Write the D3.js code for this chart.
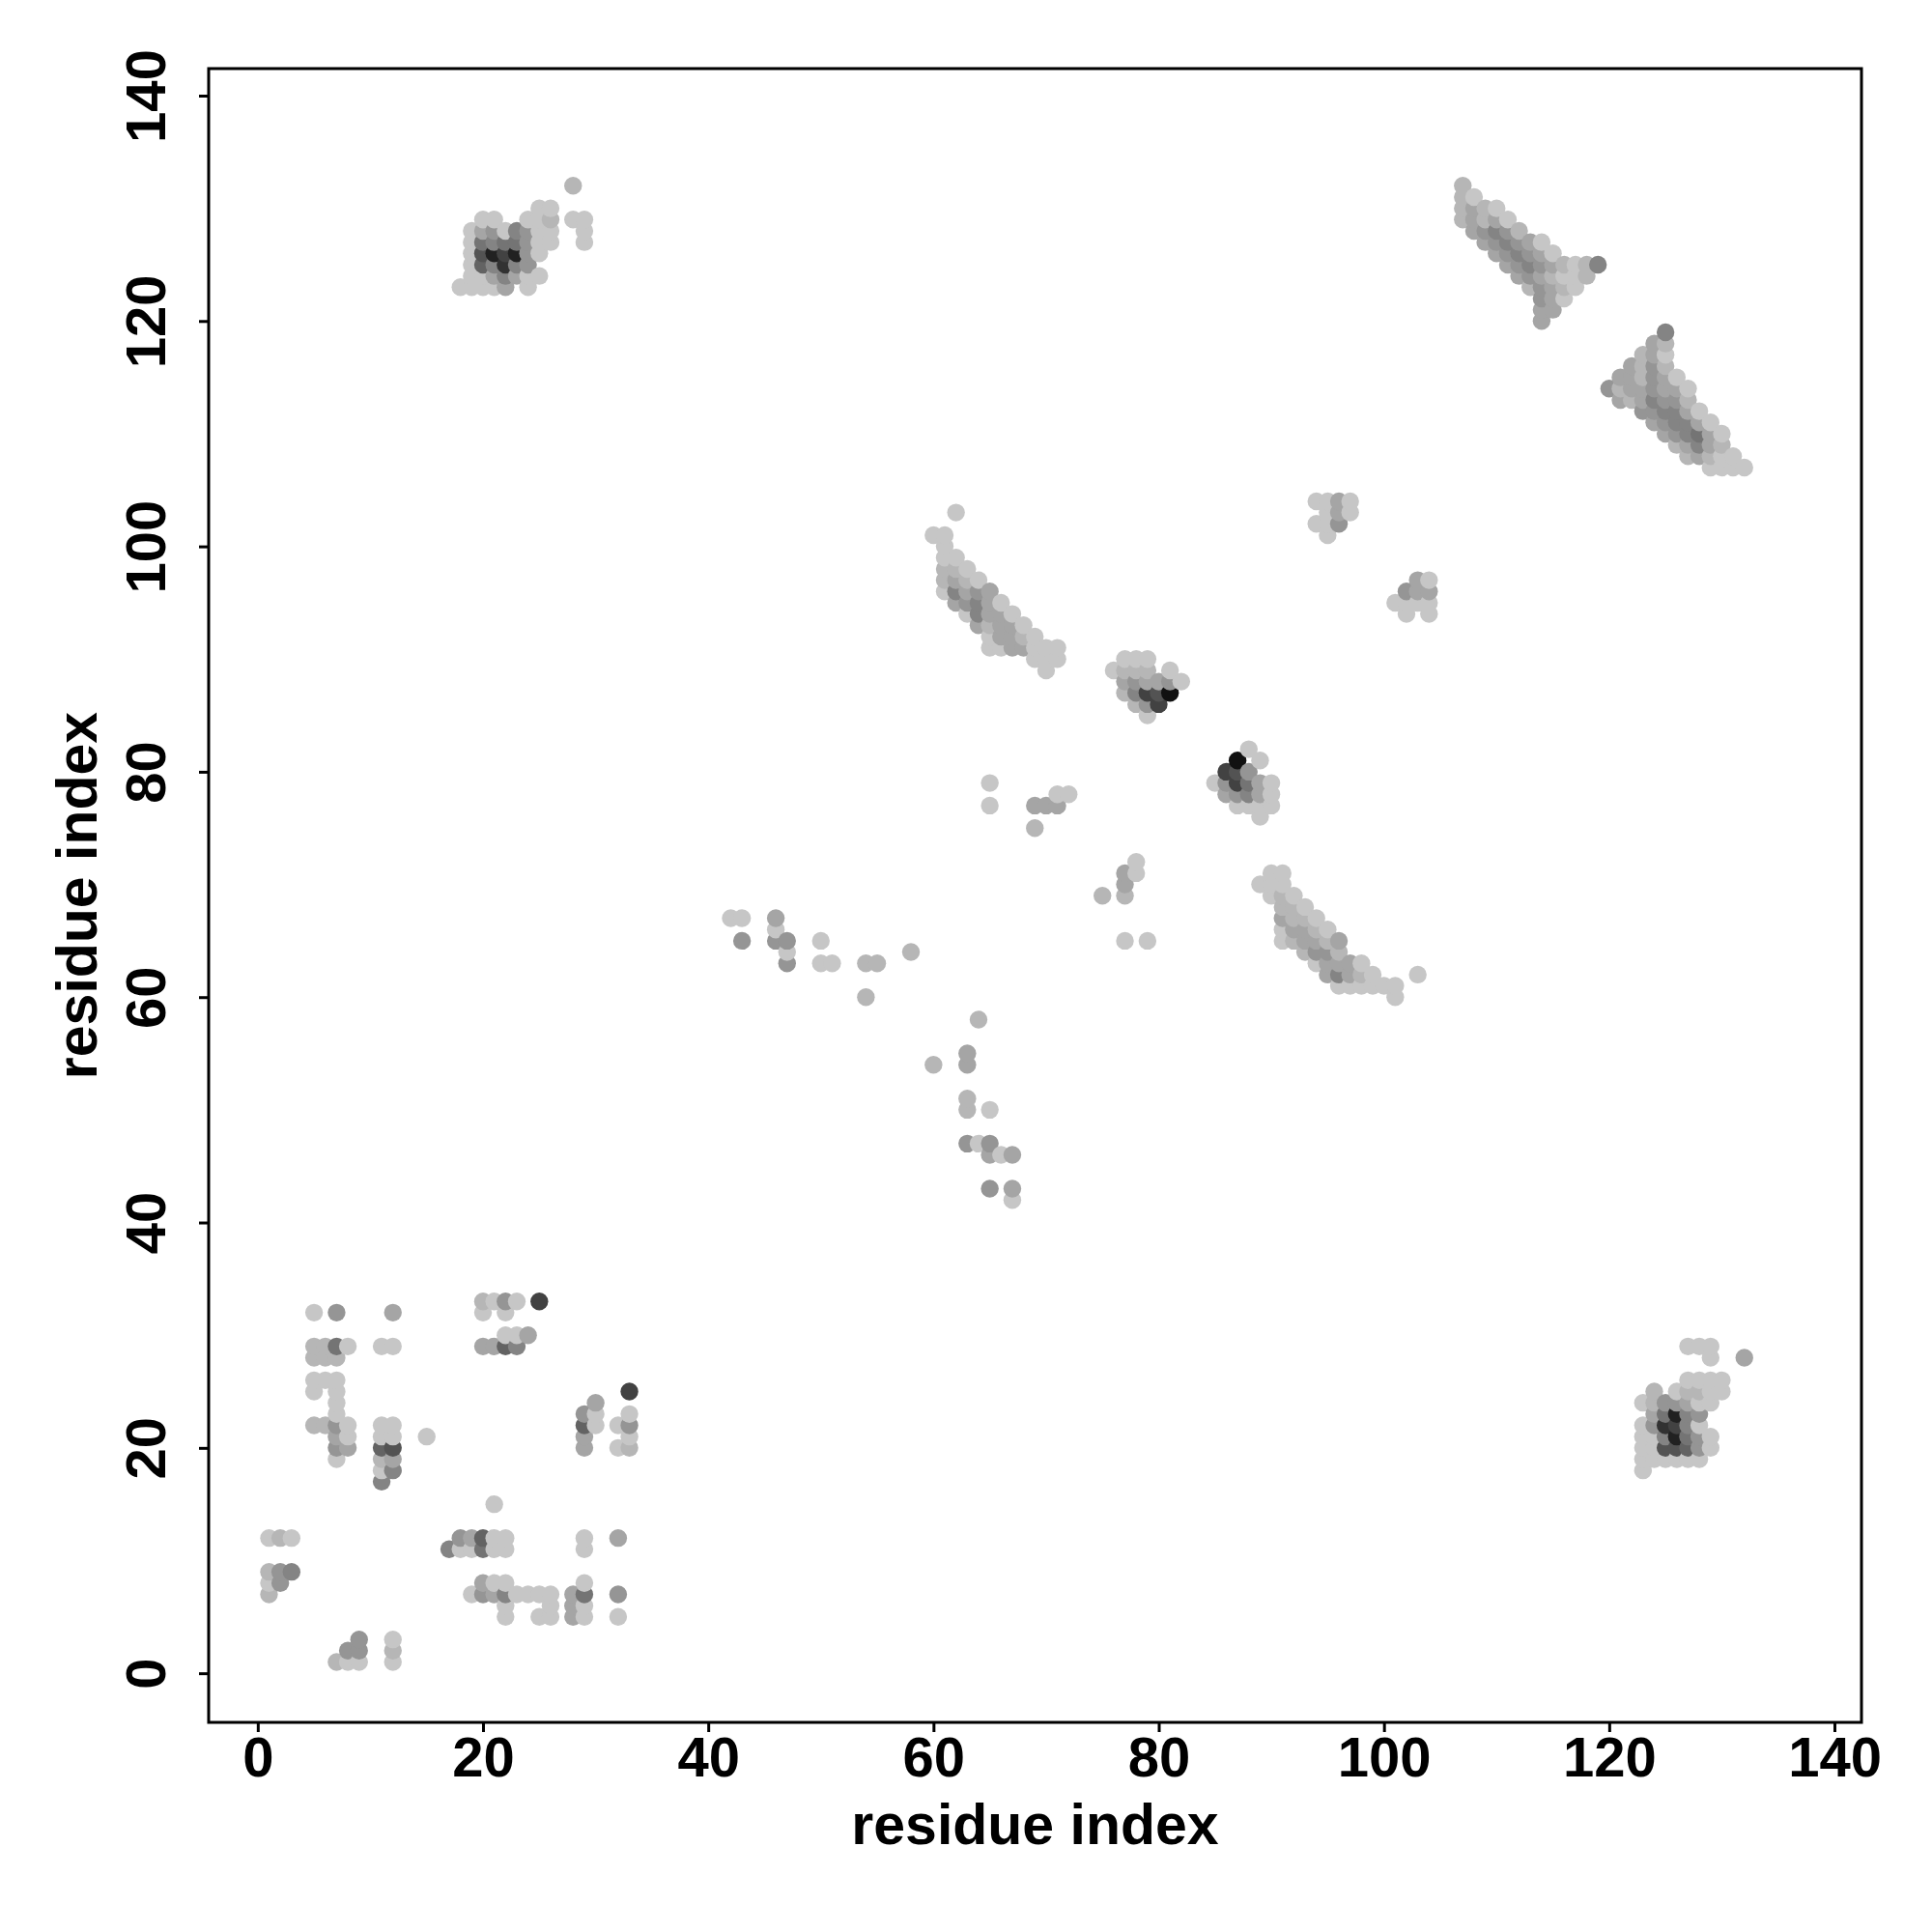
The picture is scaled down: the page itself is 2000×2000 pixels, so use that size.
<!DOCTYPE html>
<html>
<head>
<meta charset="utf-8">
<script src="https://cdn.jsdelivr.net/npm/d3@7/dist/d3.min.js"></script>
<style>
  html, body { margin: 0; padding: 0; background: #fff; }
  svg text { font-family: "Liberation Sans", Arial, Helvetica, sans-serif; font-weight: bold; }
</style>
</head>
<body>
<svg id="chart" width="2000" height="2000"></svg>
<script>
// ---- data: [residue i, residue j, contact strength level 0..11] ----
const xTicks = [0, 20, 40, 60, 80, 100, 120, 140];
const yTicks = [0, 20, 40, 60, 80, 100, 120, 140];
const xTitle = "residue index";
const yTitle = "residue index";

const contactsA = [
  [5,32,0],[7,32,3],[12,32,2],
  [5,29,1],[6,29,1],[7,29,5],[8,29,0],[11,29,0],[12,29,0],
  [5,28,1],[6,28,1],[7,28,1],
  [5,26,0],[6,26,0],[7,26,0],
  [5,25,0],[7,25,0],[7,24,0],[7,23,0],
  [5,22,1],[6,22,1],[7,22,3],[8,22,0],
  [7,21,2],[8,21,0],[7,20,3],[8,20,2],[7,19,0],
  [11,22,0],[12,22,0],[11,21,0],[12,21,0],[11,20,6],[12,20,7],
  [11,19,1],[12,19,2],[11,18,0],[12,18,4],[11,17,4],
  [15,21,0],
  [1,12,0],[2,12,1],[3,12,0],
  [1,9,1],[2,9,3],[3,9,4],[1,8,0],[2,8,3],[1,7,1],
  [9,3,3],[8,2,3],[9,2,3],[7,1,1],[8,1,0],[9,1,0],
  [12,3,0],[12,2,1],[12,1,0]
];

const contactsB = [
  [20,33,1],[21,33,0],[22,33,3],[23,33,0],[25,33,8],
  [20,32,0],[22,32,0],
  [22,30,0],[23,30,0],[24,30,2],
  [20,29,2],[21,29,2],[22,29,6],[23,29,4],
  [33,25,8],[30,24,2],[29,23,3],[30,23,0],[33,23,0],
  [29,22,6],[30,22,0],[32,22,0],[33,22,3],
  [29,21,2],[33,21,0],[29,20,2],[32,20,0],[33,20,1],
  [21,15,0],
  [18,12,3],[19,12,2],[20,12,6],[21,12,0],[22,12,0],
  [17,11,4],[18,11,0],[19,11,0],[20,11,5],[21,11,0],[22,11,0],
  [29,12,0],[29,11,0],[32,12,2],
  [20,8,2],[21,8,0],[22,8,0],[29,8,0],
  [19,7,0],[20,7,3],[21,7,2],[22,7,4],[23,7,0],[24,7,0],[25,7,0],[26,7,0],
  [28,7,2],[29,7,5],[32,7,3],
  [22,6,0],[26,6,0],[28,6,2],[29,6,0],
  [22,5,0],[25,5,0],[26,5,0],[28,5,2],[29,5,0],[32,5,0]
];

const contactsC = [
  [28,132,1],
  [25,130,0],[26,130,0],
  [20,129,0],[21,129,0],[24,129,0],[25,129,0],[26,129,1],[28,129,0],[29,129,0],
  [19,128,0],[20,128,2],[21,128,3],[22,128,0],[23,128,4],[24,128,3],[25,128,0],[26,128,0],[29,128,0],
  [19,127,0],[20,127,5],[21,127,4],[22,127,5],[23,127,5],[24,127,3],[25,127,0],[26,127,0],[29,127,0],
  [19,126,0],[20,126,7],[21,126,10],[22,126,8],[23,126,10],[24,126,3],[25,126,0],
  [19,125,0],[20,125,6],[21,125,4],[22,125,9],[23,125,4],[24,125,3],
  [19,124,0],[20,124,0],[21,124,2],[22,124,4],[23,124,2],[24,124,0],[25,124,0],
  [18,123,0],[19,123,0],[20,123,0],[21,123,0],[22,123,2],[24,123,0]
];

const contactsD = [
  [107,132,1],
  [107,131,1],[108,131,0],
  [107,130,1],[108,130,2],[109,130,1],[110,130,0],
  [107,129,1],[108,129,2],[109,129,1],[110,129,2],[111,129,0],
  [108,128,2],[109,128,3],[110,128,4],[111,128,3],[112,128,1],
  [109,127,2],[110,127,3],[111,127,4],[112,127,3],[113,127,2],[114,127,0],
  [110,126,2],[111,126,3],[112,126,4],[113,126,3],[114,126,2],[115,126,0],
  [111,125,2],[112,125,3],[113,125,4],[114,125,3],[115,125,2],[116,125,1],[117,125,0],[118,125,1],[119,125,4],
  [112,124,2],[113,124,3],[114,124,2],[115,124,1],[116,124,0],[117,124,0],[118,124,1],
  [113,123,1],[114,123,3],[115,123,2],[116,123,1],[117,123,0],
  [114,122,3],[115,122,2],[116,122,0],
  [114,121,2],[115,121,2],
  [114,120,2]
];

const contactsE = [
  [125,119,4],
  [124,118,2],[125,118,1],
  [123,117,1],[124,117,2],[125,117,0],
  [122,116,2],[123,116,1],[124,116,3],[125,116,1],
  [121,115,2],[122,115,2],[123,115,1],[124,115,3],[125,115,2],[126,115,0],
  [120,114,3],[121,114,1],[122,114,2],[123,114,2],[124,114,3],[125,114,2],[126,114,2],[127,114,0],
  [121,113,2],[122,113,1],[123,113,2],[124,113,4],[125,113,3],[126,113,3],[127,113,1],
  [123,112,3],[124,112,3],[125,112,4],[126,112,4],[127,112,2],[128,112,0],
  [124,111,2],[125,111,3],[126,111,4],[127,111,4],[128,111,2],[129,111,0],
  [125,110,2],[126,110,3],[127,110,4],[128,110,5],[129,110,2],[130,110,0],
  [126,109,1],[127,109,2],[128,109,4],[129,109,2],[130,109,1],
  [127,108,1],[128,108,2],[129,108,1],[130,108,0],[131,108,0],
  [129,107,0],[130,107,0],[131,107,0],[132,107,0]
];

const contactsF = [
  [62,103,0],
  [60,101,0],[61,101,0],[61,100,0],[61,99,0],[62,99,0],
  [61,98,1],[62,98,1],[63,98,0],
  [61,97,1],[62,97,2],[63,97,1],[64,97,0],
  [61,96,0],[62,96,4],[63,96,2],[64,96,3],[65,96,2],
  [62,95,2],[63,95,3],[64,95,4],[65,95,2],[66,95,0],
  [63,94,0],[64,94,4],[65,94,2],[66,94,2],[67,94,0],
  [64,93,2],[65,93,1],[66,93,2],[67,93,2],[68,93,0],
  [65,92,0],[66,92,2],[67,92,2],[68,92,1],[69,92,0],
  [65,91,0],[66,91,0],[67,91,2],[68,91,2],[69,91,0],[70,91,0],[71,91,0],
  [69,90,0],[70,90,0],[71,90,0],
  [70,89,0]
];

const contactsG = [
  [77,90,0],[78,90,0],[79,90,0],
  [76,89,0],[77,89,1],[78,89,1],[79,89,1],[81,89,0],
  [77,88,2],[78,88,3],[79,88,2],[80,88,2],[81,88,3],[82,88,0],
  [77,87,1],[78,87,4],[79,87,8],[80,87,7],[81,87,11],
  [78,86,1],[79,86,3],[80,86,8],
  [79,85,0],
  [88,82,0],
  [87,81,11],[89,81,0],
  [86,80,8],[87,80,7],[88,80,3],
  [85,79,0],[86,79,3],[87,79,8],[88,79,5],[89,79,2],[90,79,0],
  [86,78,2],[87,78,3],[88,78,4],[89,78,2],[90,78,0],
  [87,77,0],[88,77,0],[89,77,0],[90,77,0],
  [89,76,0]
];

const contactsH = [
  [90,71,0],[91,71,0],
  [89,70,0],[90,70,0],[91,70,0],
  [90,69,0],[91,69,1],[92,69,0],
  [91,68,1],[92,68,1],[93,68,0],
  [91,67,2],[92,67,1],[93,67,1],[94,67,0],
  [91,66,0],[92,66,2],[93,66,2],[94,66,1],[95,66,0],
  [91,65,0],[92,65,1],[93,65,2],[94,65,2],[95,65,1],[96,65,2],
  [93,64,1],[94,64,3],[95,64,3],[96,64,1],
  [94,63,0],[95,63,2],[96,63,2],[97,63,2],[98,63,0],
  [95,62,2],[96,62,4],[97,62,2],[98,62,1],[99,62,0],[103,62,0],
  [96,61,0],[97,61,0],[98,61,0],[99,61,0],[100,61,0],[101,61,0],
  [101,60,0]
];

const contactsI = [
  [94,104,0],[95,104,0],[96,104,2],[97,104,0],
  [95,103,0],[96,103,2],[97,103,0],
  [94,102,0],[95,102,0],[96,102,3],
  [95,101,0],
  [103,97,2],[104,97,0],
  [102,96,3],[103,96,2],[104,96,2],
  [101,95,0],[102,95,0],[103,95,0],[104,95,0],
  [102,94,0],[104,94,0]
];

const contactsJ = [
  [42,67,0],[43,67,0],[46,67,2],[46,66,0],
  [43,65,3],[46,65,3],[47,65,3],[50,65,0],
  [47,64,0],[58,64,1],
  [47,63,3],[50,63,0],[51,63,0],[54,63,1],[55,63,1],
  [54,60,1],
  [65,79,0],[65,77,0],
  [69,77,2],[70,77,2],[71,77,2],[71,78,0],[72,78,0],
  [69,75,1],
  [78,72,0],[77,71,2],[78,71,0],[77,70,2],[77,69,1],[75,69,1],
  [77,65,0],[79,65,0],
  [64,58,1],
  [63,55,2],[63,54,2],[60,54,1],
  [63,51,1],[63,50,1],[65,50,0],
  [63,47,3],[64,47,0],[65,47,3],
  [65,46,2],[66,46,0],[67,46,2],
  [65,43,3],[67,43,2],
  [67,42,0]
];

const contactsK = [
  [127,29,0],[128,29,0],[129,29,0],
  [129,28,0],[132,28,2],
  [127,26,0],[128,26,0],[129,26,0],[130,26,0],
  [124,25,1],[126,25,0],[127,25,1],[128,25,1],[129,25,0],[130,25,0],
  [123,24,0],[124,24,1],[125,24,3],[126,24,3],[127,24,2],[128,24,0],[129,24,0],
  [124,23,2],[125,23,5],[126,23,10],[127,23,4],[128,23,3],
  [123,22,0],[124,22,3],[125,22,9],[126,22,8],[127,22,4],[128,22,0],
  [123,21,0],[124,21,0],[125,21,4],[126,21,10],[127,21,5],[128,21,3],[129,21,0],
  [123,20,0],[124,20,0],[125,20,7],[126,20,7],[127,20,6],[128,20,3],[129,20,0],
  [123,19,0],[124,19,0],[125,19,0],[126,19,0],[127,19,0],[128,19,0],
  [123,18,0]
];

// ---- drawing ----
const svg = d3.select("#chart");
const mLeft = 216, mRight = 1927, mTop = 71, mBottom = 1783;
const x = d3.scaleLinear().domain([-4.36, 142.4]).range([mLeft, mRight]);
const y = d3.scaleLinear().domain([-4.36, 142.4]).range([mBottom, mTop]);
const color = d3.scaleLinear().domain([0, 11]).range(["#c6c6c6", "#111111"]);

const points = [].concat(contactsA, contactsB, contactsC, contactsD, contactsE,
  contactsF, contactsG, contactsH, contactsI, contactsJ, contactsK)
  .slice().sort((a, b) => a[0] - b[0] || a[1] - b[1]);

svg.append("g").selectAll("circle").data(points).join("circle")
  .attr("cx", d => x(d[0]))
  .attr("cy", d => y(d[1]))
  .attr("r", 9.2)
  .attr("fill", d => color(d[2]));

// frame
svg.append("rect")
  .attr("x", mLeft).attr("y", mTop)
  .attr("width", mRight - mLeft).attr("height", mBottom - mTop)
  .attr("fill", "none").attr("stroke", "#000").attr("stroke-width", 3);

// x axis
const xAxis = d3.axisBottom(x).tickValues(xTicks).tickSize(10).tickPadding(8).tickFormat(d3.format("d"));
const gx = svg.append("g").attr("transform", `translate(0,${mBottom})`).call(xAxis);
gx.select(".domain").remove();
gx.selectAll(".tick line").attr("stroke", "#000").attr("stroke-width", 3);
gx.selectAll(".tick text").attr("font-size", 58).attr("fill", "#000")
  .attr("dy", null).attr("y", 56);

// y axis
const yAxis = d3.axisLeft(y).tickValues(yTicks).tickSize(10).tickFormat(d3.format("d"));
const gy = svg.append("g").attr("transform", `translate(${mLeft},0)`).call(yAxis);
gy.select(".domain").remove();
gy.selectAll(".tick line").attr("stroke", "#000").attr("stroke-width", 3);
gy.selectAll(".tick text").attr("font-size", 58).attr("fill", "#000")
  .attr("x", null).attr("dy", null)
  .attr("text-anchor", "middle")
  .attr("transform", `translate(${171 - mLeft},0) rotate(-90)`);

// titles
svg.append("text").attr("x", (mLeft + mRight) / 2).attr("y", 1909)
  .attr("text-anchor", "middle").attr("font-size", 59).attr("fill", "#000")
  .text(xTitle);
svg.append("text")
  .attr("transform", `translate(100,${(mTop + mBottom) / 2}) rotate(-90)`)
  .attr("text-anchor", "middle").attr("font-size", 59).attr("fill", "#000")
  .text(yTitle);
</script>
</body>
</html>
